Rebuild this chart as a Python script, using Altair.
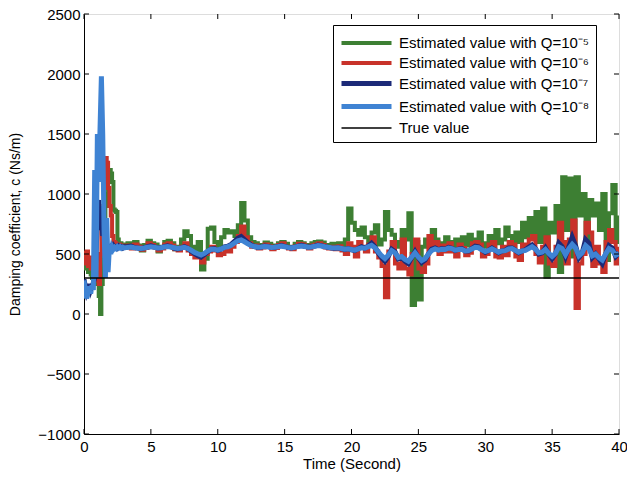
import altair as alt
import pandas as pd
import numpy as np

# ---- time grid (seconds) ----
t_early = np.round(np.arange(0, 3.0001, 0.1), 2).tolist()      # 0.0 .. 3.0
t_main = np.round(np.arange(3.25, 40.0001, 0.25), 2).tolist()   # 3.25 .. 40
times = t_early + t_main

names = [
    "Estimated value with Q=10⁻⁵",
    "Estimated value with Q=10⁻⁶",
    "Estimated value with Q=10⁻⁷",
    "Estimated value with Q=10⁻⁸",
    "True value",
]
colors = ["#3d7f33", "#c8322a", "#1c2a78", "#3f83d3", "#000000"]
widths = [4, 4, 5, 5, 1.3]

# ---- Q = 1e-5 (green) ----
green_early = [420, 380, 450, 350, 400, 330, 300, 380, 250, 350,
               300, 150, 0, 250, 450, 700, 900, 1000, 1150, 1200,
               1170, 1100, 870, 860, 850, 620, 580, 590, 560, 580, 570]
green_main = [
    590, 560, 600, 570,   530, 575, 610, 590,   580, 520, 560, 600,
    610, 590, 540, 560,   620, 690, 650, 560,   530, 600, 370, 460,
    710, 720, 600, 560,   640, 700, 680, 690,   650, 740, 925, 780,
    640, 600, 590, 560,   575, 595, 585, 560,   570, 590, 600, 585,
    560, 555, 585, 600,   590, 575, 560, 590,   600, 605, 595, 575,
    560, 585, 570, 590,   560, 620, 880, 760,   700, 660, 720, 640,
    600, 680, 740, 580,   620, 850, 700, 660,   560, 600, 700, 620,
    840, 75, 600, 120,    560, 620, 560, 700,   620, 560, 590, 640,
    600, 560, 620, 590,   640, 570, 660, 600,   620, 680, 560, 590,
    650, 560, 700, 590,   620, 720, 650, 560,   680, 600, 760, 640,
    800, 680, 850, 600,   880, 310, 760, 680,   900, 350, 1140, 700,
    1130, 480, 1140, 820, 1000, 600, 950, 820,  920, 700, 1000, 450,
    840, 1075, 600, 820,
]

# ---- Q = 1e-6 (red) ----
red_early = [510, 420, 520, 400, 470, 380, 430, 320, 290, 300,
             280, 250, 500, 900, 700, 1100, 1300, 1260, 1050, 900,
             820, 650, 600, 590, 570, 560, 580, 560, 570, 555, 565]
red_main = [
    570, 545, 580, 560,   535, 550, 590, 575,   555, 530, 545, 580,
    590, 570, 540, 530,   560, 590, 530, 500,   470, 480, 430, 500,
    520, 560, 530, 490,   500, 540, 520, 560,   600, 650, 730, 640,
    590, 560, 570, 545,   555, 580, 565, 540,   550, 575, 590, 560,
    545, 540, 565, 585,   580, 560, 545, 570,   580, 590, 575, 555,
    545, 560, 540, 565,   530, 500, 590, 560,   480, 600, 560, 520,
    580, 640, 520, 470,   400, 140, 520, 600,   420, 380, 620, 380,
    330, 500, 620, 380,   350, 420, 650, 560,   600, 500, 570, 520,
    590, 520, 480, 580,   550, 490, 510, 590,   600, 580, 480, 500,
    580, 600, 480, 470,   560, 490, 600, 580,   480, 450, 580, 560,
    620, 650, 500, 430,   560, 640, 420, 400,   560, 760, 600, 420,
    620, 780, 50, 420,    500, 760, 680, 400,   560, 420, 350, 600,
    700, 600, 420, 560,
]

# ---- Q = 1e-7 (dark blue) ----
dblue_early = [290, 230, 180, 210, 250, 200, 230, 260, 300, 500,
               800, 950, 700, 900, 650, 720, 600, 520, 580, 540,
               560, 550, 570, 555, 560, 550, 565, 555, 560, 550, 560]
dblue_main = [
    560, 565, 555, 550,   545, 552, 562, 568,   560, 550, 552, 562,
    568, 560, 548, 542,   550, 560, 548, 525,   505, 488, 475, 495,
    520, 540, 545, 530,   540, 560, 565, 580,   605, 630, 645, 620,
    595, 575, 562, 555,   558, 566, 562, 555,   556, 564, 570, 563,
    555, 550, 558, 566,   572, 566, 558, 560,   566, 575, 570, 562,
    555, 550, 548, 552,   545, 538, 545, 535,   528, 545, 560, 550,
    565, 590, 560, 510,   470, 440, 480, 540,   520, 460, 470, 440,
    420, 470, 520, 470,   430, 450, 500, 540,   550, 535, 545, 540,
    555, 548, 530, 540,   545, 525, 525, 545,   565, 560, 535, 515,
    530, 550, 530, 510,   525, 530, 550, 550,   530, 510, 525, 535,
    555, 575, 545, 500,   510, 550, 500, 460,   500, 590, 560, 480,
    560, 640, 570, 470,   510, 620, 590, 470,   500, 460, 420, 500,
    570, 550, 480, 510,
]

# ---- Q = 1e-8 (light blue) ----
lblue_early = [280, 200, 130, 180, 230, 170, 240, 200, 1200, 300,
               1500, 1100, 1550, 1980, 1500, 700, 300, 800, 350, 560,
               500, 560, 540, 555, 545, 560, 550, 560, 548, 556, 550]
lblue_main = [
    555, 558, 552, 550,   546, 550, 556, 560,   556, 550, 552, 558,
    562, 558, 552, 546,   550, 556, 548, 532,   515, 502, 492, 505,
    525, 540, 540, 532,   542, 555, 560, 572,   592, 610, 618, 602,
    585, 570, 562, 556,   558, 563, 560, 554,   556, 561, 566, 561,
    555, 551, 556, 563,   567, 563, 557, 559,   564, 570, 567, 561,
    556, 552, 550, 552,   546, 540, 544, 538,   532, 542, 552, 548,
    560, 572, 552, 518,   485, 462, 490, 528,   510, 470, 478, 455,
    440, 475, 510, 475,   445, 462, 500, 530,   542, 532, 540, 538,
    550, 545, 532, 538,   540, 526, 528, 542,   556, 552, 535, 520,
    530, 544, 530, 515,   525, 528, 542, 545,   530, 515, 525, 530,
    545, 560, 540, 510,   515, 538, 505, 480,   505, 560, 545, 495,
    545, 580, 550, 485,   510, 570, 545, 485,   500, 470, 450, 500,
    545, 530, 490, 505,
]

true_times = [0, 40]
true_values = [300, 300]

x_ticks = [0, 5, 10, 15, 20, 25, 30, 35, 40]
y_ticks = [-1000, -500, 0, 500, 1000, 1500, 2000, 2500]

series_values = [green_early + green_main, red_early + red_main,
                 dblue_early + dblue_main, lblue_early + lblue_main]

frames = []
for nm, vals in zip(names[:4], series_values):
    frames.append(pd.DataFrame({"time": times, "value": vals, "series": nm}))
frames.append(pd.DataFrame({"time": true_times, "value": true_values, "series": names[4]}))
df = pd.concat(frames, ignore_index=True)

W, H = 535, 420

x_enc = alt.X("time:Q", scale=alt.Scale(domain=[0, 40], nice=False, zero=False),
              axis=alt.Axis(values=x_ticks, title="Time (Second)", ticks=False,
                            grid=False, labelFontSize=15, titleFontSize=15,
                            titleFontWeight="normal", labelPadding=5, titlePadding=2,
                            domainColor="black", labelColor="black", titleColor="black",
                            labelFlush=False, format="d"))
y_enc = alt.Y("value:Q", scale=alt.Scale(domain=[-1000, 2500], nice=False, zero=False),
              axis=alt.Axis(values=y_ticks, title="Damping coefficient, c (Ns/m)",
                            ticks=False, grid=False, labelFontSize=15, titleFontSize=14,
                            titleFontWeight="normal", labelPadding=4, titlePadding=15,
                            domainColor="black", labelColor="black", titleColor="black",
                            labelFlush=False, format="d"))

# wide, flat line sample: 20px symbol box, path spans 50px to the right of its left edge
legend = alt.Legend(orient="none", legendX=249, legendY=11, title=None,
                    symbolType="M-1,0L4,0", symbolSize=400, labelFontSize=15,
                    labelColor="black", strokeColor="black", fillColor="white",
                    padding=6, labelOffset=35, rowPadding=-4, labelLimit=400)

color_enc = alt.Color("series:N", scale=alt.Scale(domain=names, range=colors),
                      legend=legend)
sw_enc = alt.StrokeWidth("series:N",
                         scale=alt.Scale(type="ordinal", domain=names, range=widths),
                         legend=legend)

layers = []
for i, nm in enumerate(names):
    interp = "step-after" if i < 2 else "linear"
    layers.append(
        alt.Chart(df).transform_filter(alt.datum.series == nm)
        .mark_line(interpolate=interp, clip=True, strokeJoin="miter")
        .encode(x=x_enc, y=y_enc, color=color_enc, strokeWidth=sw_enc)
    )

# inward MATLAB-style tick marks
xt = pd.DataFrame({"t": x_ticks})
yt = pd.DataFrame({"v": y_ticks})
tick_x_bottom = alt.Chart(xt).mark_rule(color="black", strokeWidth=1).encode(
    x=alt.X("t:Q"), y=alt.value(H), y2=alt.value(H - 5))
tick_x_top = alt.Chart(xt).mark_rule(color="black", strokeWidth=1).encode(
    x=alt.X("t:Q"), y=alt.value(0), y2=alt.value(5))
tick_y_left = alt.Chart(yt).mark_rule(color="black", strokeWidth=1).encode(
    y=alt.Y("v:Q"), x=alt.value(0), x2=alt.value(5))
tick_y_right = alt.Chart(yt).mark_rule(color="black", strokeWidth=1).encode(
    y=alt.Y("v:Q"), x=alt.value(W), x2=alt.value(W - 5))

chart = alt.layer(*layers, tick_x_bottom, tick_x_top, tick_y_left, tick_y_right).properties(
    width=W, height=H,
    autosize=alt.AutoSizeParams(type="none"),
    padding={"left": 84, "top": 14, "right": 8, "bottom": 44},
    background="white",
).configure_view(stroke="black", strokeWidth=1.2).configure(
    font="Liberation Sans")

chart.save("out.html", embed_options={"renderer": "svg", "actions": False})
